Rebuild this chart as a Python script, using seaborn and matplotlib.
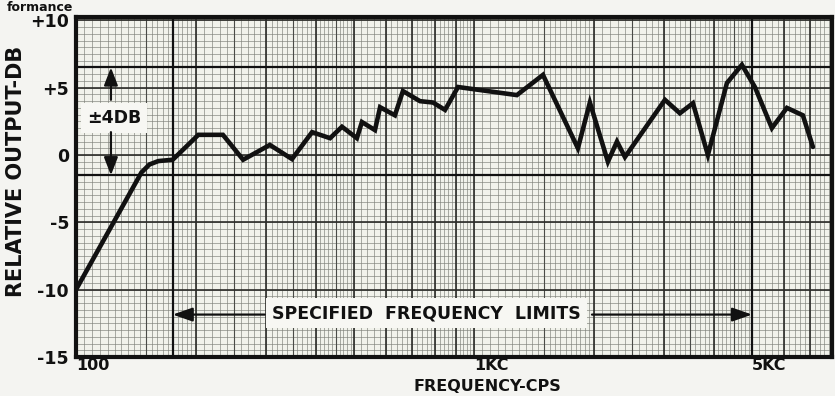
import numpy as np
import pandas as pd
import matplotlib
matplotlib.use("Agg")
import matplotlib.pyplot as plt
import seaborn as sns

# Measured response, frequency in cps and level in dB
freq_hz = [100, 146, 153, 161, 175, 203, 234, 263, 307, 349, 392, 435, 466, 508,
           523, 564, 581, 633, 663, 732, 789, 846, 912, 1282, 1491, 1825, 1956,
           2171, 2288, 2396, 3020, 3293, 3551, 3872, 4323, 4714, 5082, 5607,
           6116, 6708, 7110]
response_db = [-10.0, -1.3, -0.7, -0.45, -0.35, 1.5, 1.5, -0.35, 0.75, -0.3, 1.7,
               1.25, 2.1, 1.25, 2.45, 1.85, 3.55, 2.95, 4.75, 4.0, 3.9, 3.35, 5.05,
               4.45, 5.95, 0.5, 3.9, -0.5, 1.0, -0.15, 4.1, 3.1, 3.85, 0.0, 5.35,
               6.7, 5.05, 2.0, 3.5, 2.95, 0.6]

y_ticks = [10, 5, 0, -5, -10, -15]
y_tick_labels = ["+10", "+5", "0", "-5", "-10", "-15"]
x_ticks = [100, 1000, 5000]
x_tick_labels = ["100", "1KC", "5KC"]

# Specification window
limit_low_hz = 175
limit_high_hz = 5000
tol_upper_db = 6.5
tol_lower_db = -1.5

df = pd.DataFrame({"freq": freq_hz, "db": response_db})

sns.set_theme(style="white")
plt.rcParams["font.family"] = ["DejaVu Sans"]
INK = "#111111"

fig = plt.figure(figsize=(8.35, 3.96), dpi=100, facecolor="#f4f4f1")
ax = fig.add_axes([76 / 835, 39 / 396, 756 / 835, 340 / 396])
ax.set_facecolor("#f1f2eb")
ax.set_xscale("log")
ax.set_xlim(100, 7940)
ax.set_ylim(-15, 10.25)

# ---- log-cycle graph paper ----
fine_x, mid_x, major_x = [], [], []
for base in (100, 1000):
    for v in np.round(np.arange(1.0, 2.0, 0.05), 3):
        fine_x.append(v * base)
    for v in np.round(np.arange(2.0, 5.0, 0.1), 3):
        fine_x.append(v * base)
    for v in np.round(np.arange(5.0, 10.0, 0.2), 3):
        fine_x.append(v * base)
    for v in (1.5, 2.5, 3.5, 4.5):
        mid_x.append(v * base)
    for v in range(1, 10):
        major_x.append(v * base)
fine_x = [v for v in fine_x if v < 7940]
major_x = [v for v in major_x if v < 7940]

fine_y = np.arange(-15, 10.25, 0.5)
major_y = np.arange(-15, 10.1, 5)

ax.vlines(fine_x, -15, 10.25, color="#7d7f78", lw=0.45, zorder=1)
ax.hlines(fine_y, 100, 7940, color="#7d7f78", lw=0.45, zorder=1)
ax.vlines(mid_x, -15, 10.25, color="#4a4b47", lw=0.8, zorder=1)
ax.vlines(major_x, -15, 10.25, color="#2b2b28", lw=1.2, zorder=1)
ax.hlines(major_y, 100, 7940, color="#2b2b28", lw=1.2, zorder=1)

# tolerance window
ax.hlines([tol_upper_db, tol_lower_db], 100, 7940, color=INK, lw=1.6, zorder=2)
ax.vlines([limit_low_hz, limit_high_hz], -15, 10.25, color=INK, lw=1.6, zorder=2)

# ---- response curve ----
sns.lineplot(data=df, x="freq", y="db", ax=ax, color=INK, lw=3.3,
             solid_joinstyle="miter", zorder=5, legend=False)

# ---- axes styling ----
for s in ax.spines.values():
    s.set_color(INK)
    s.set_linewidth(3.0)
    s.set_zorder(6)

ax.set_yticks(y_ticks)
ax.set_yticklabels(y_tick_labels, fontsize=12.5, fontweight="bold", color=INK)
ax.set_xticks(x_ticks)
ax.set_xticklabels(x_tick_labels, fontsize=11.5, fontweight="bold", color=INK)
ax.minorticks_off()
ax.tick_params(axis="y", length=0, pad=5)
ax.tick_params(axis="x", length=0, pad=0.5)
for lab in ax.get_xticklabels():
    lab.set_horizontalalignment("left")

ax.set_ylabel("RELATIVE OUTPUT-DB", fontsize=15, fontweight="bold", color=INK)
ax.yaxis.set_label_coords(-0.066, 0.545)
ax.set_xlabel("FREQUENCY-CPS", fontsize=11.5, fontweight="bold", color=INK,
              va="center")
ax.xaxis.set_label_coords(0.544, -0.086)

# ---- ±4 dB annotation ----
arrow_x = 122.4
ax.text(124.5, 2.75, "\u00b14DB", fontsize=12.5, fontweight="bold", color=INK,
        ha="center", va="center", zorder=7,
        bbox=dict(boxstyle="square,pad=0.35", fc="#f7f7f3", ec="none"))
ax.annotate("", xy=(arrow_x, tol_upper_db), xytext=(arrow_x, 4.1),
            arrowprops=dict(arrowstyle="-|>,head_length=0.9,head_width=0.35",
                            color=INK, lw=1.6, shrinkA=0, shrinkB=0), zorder=7)
ax.annotate("", xy=(arrow_x, tol_lower_db), xytext=(arrow_x, 1.7),
            arrowprops=dict(arrowstyle="-|>,head_length=0.9,head_width=0.35",
                            color=INK, lw=1.6, shrinkA=0, shrinkB=0), zorder=7)

# ---- frequency limits annotation ----
ax.text(760, -11.75, "SPECIFIED  FREQUENCY  LIMITS", fontsize=12.5,
        fontweight="bold", color=INK, ha="center", va="center", zorder=7,
        bbox=dict(boxstyle="square,pad=0.35", fc="#f7f7f3", ec="none"))
ax.annotate("", xy=(limit_low_hz, -11.85), xytext=(298, -11.85),
            arrowprops=dict(arrowstyle="-|>,head_length=1.0,head_width=0.35",
                            color=INK, lw=1.6, shrinkA=0, shrinkB=0), zorder=7)
ax.annotate("", xy=(limit_high_hz, -11.85), xytext=(1980, -11.85),
            arrowprops=dict(arrowstyle="-|>,head_length=1.0,head_width=0.35",
                            color=INK, lw=1.6, shrinkA=0, shrinkB=0), zorder=7)

fig.text(0.008, 0.997, "formance", fontsize=9, fontweight="bold", color=INK,
         ha="left", va="top")

fig.savefig("out.png", dpi=100, facecolor=fig.get_facecolor())
